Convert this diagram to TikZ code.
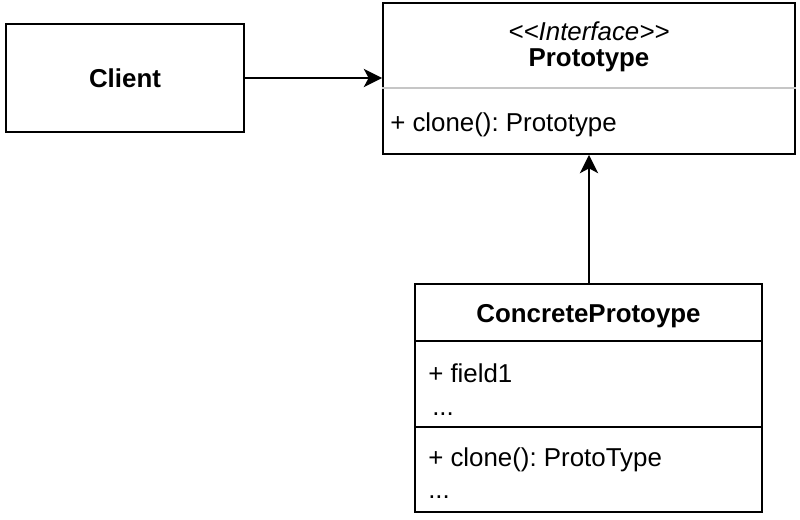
\documentclass[tikz,border=0pt]{standalone}
\usepackage{fontspec}
\newfontfamily\umlfont{Liberation Sans}
\usetikzlibrary{arrows.meta, positioning, calc}
\frenchspacing

\begin{document}
\begin{tikzpicture}[
    box/.style={rectangle, draw, line width=1.4pt, inner sep=0pt,
                font=\umlfont\fontsize{18.4}{22}\selectfont},
    member/.style={anchor=west, inner sep=0pt, text height=0.73em, text depth=0.21em,
                   font=\umlfont\fontsize{18.4}{22}\selectfont},
    title/.style={inner sep=0pt, font=\umlfont\fontsize{18.4}{22}\selectfont\bfseries},
    link/.style={-{Stealth[length=13pt, width=13pt, inset=3.5pt]}, line width=1.4pt}]
    \useasboundingbox (0,0) rectangle (20,-13);

    % Boxes
    \node[box, minimum width=5.95cm, minimum height=2.7cm, font=\umlfont\fontsize{18.4}{22}\selectfont\bfseries] (client) at (3.125,-1.95) {Client};
    \node[box, minimum width=10.3cm, minimum height=3.775cm] (proto) at (14.725,-1.9625) {};
    \node[box, minimum width=8.675cm, minimum height=5.7cm] (concrete) at (14.7125,-9.95) {};

    % Interface
    \node[inner sep=0pt, font=\umlfont\fontsize{18.4}{22}\selectfont\itshape] (stereo) at (14.725,-0.78) {<<Interface>>};
    \node[title] (protoname) at (14.725,-1.5) {Prototype};
    \draw[gray!45, line width=1.6pt] (proto.west |- 0,-2.2) -- (proto.east |- 0,-2.2);
    \node[member] (protoclone) at (9.75,-3.19) {+ clone(): Prototype};

    % Concrete class
    \node[title] (concname) at (14.7125,-7.9) {ConcreteProtoype};
    \draw[line width=1.4pt] (concrete.west |- 0,-8.525) -- (concrete.east |- 0,-8.525);
    \draw[line width=1.4pt] (concrete.west |- 0,-10.675) -- (concrete.east |- 0,-10.675);
    \node[member] (field) at (10.7,-9.47) {+ field1};
    \node[member] (fieldmore) at (10.8,-10.3) {...};
    \node[member] (concclone) at (10.7,-11.56) {+ clone(): ProtoType};
    \node[member] (clonemore) at (10.7,-12.38) {...};

    % Arrows
    \draw[link] (client.east) -- (client.east -| proto.west);
    \draw[link] (concrete.north -| proto.south) -- (proto.south);
\end{tikzpicture}
\end{document}
